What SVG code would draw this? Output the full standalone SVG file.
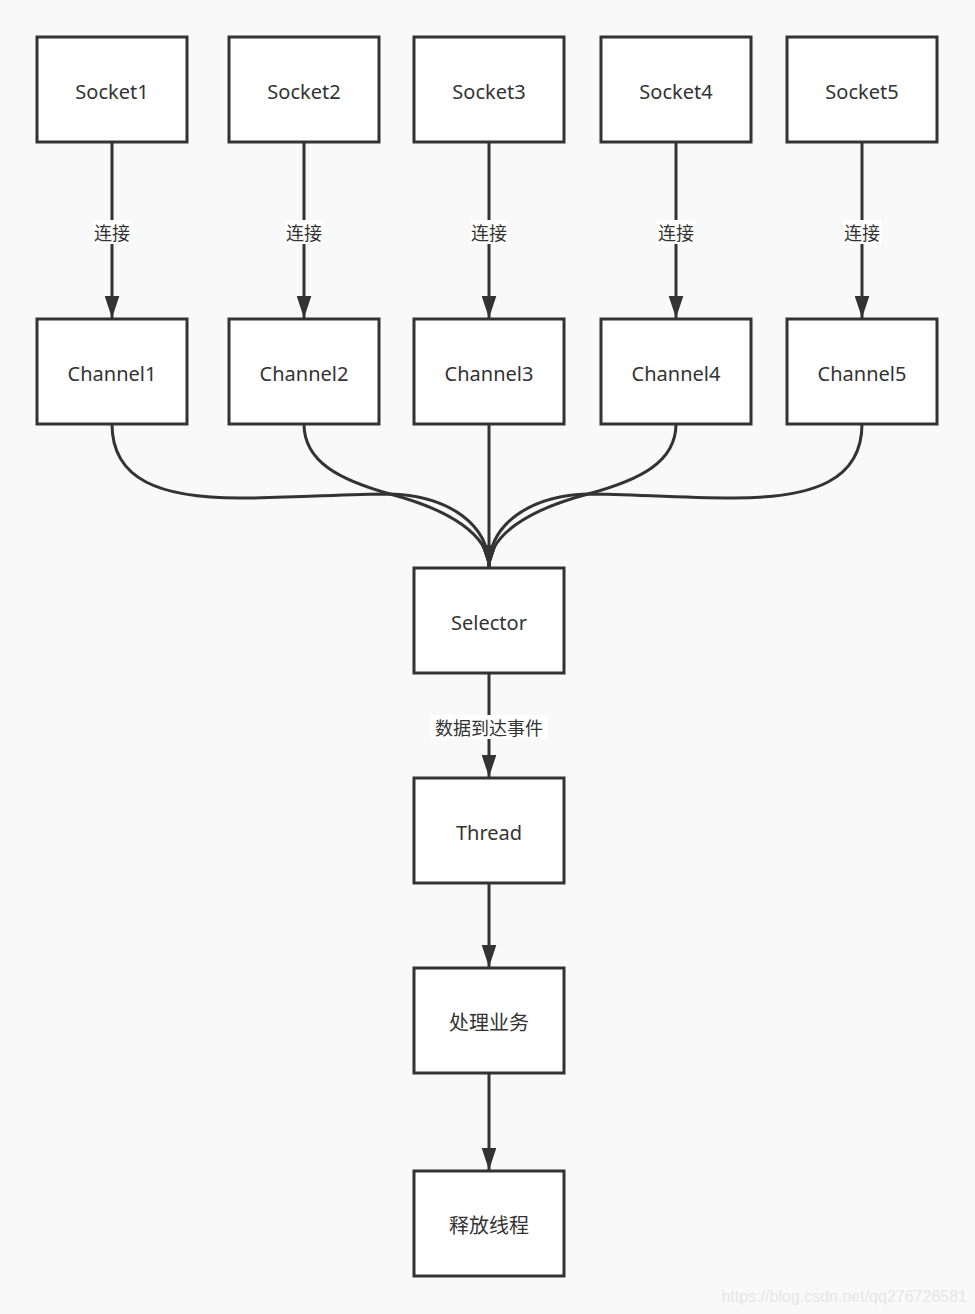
<svg xmlns="http://www.w3.org/2000/svg" width="975" height="1314" viewBox="0 0 975 1314">
<style>
.box{fill:#ffffff;stroke:#333333;stroke-width:3}
.t{font-family:"Noto Sans","Noto Sans CJK SC",sans-serif;font-size:20px;fill:#333333;text-anchor:middle;dominant-baseline:central}
.lbl{font-family:"Noto Sans CJK SC",sans-serif;font-size:18px;fill:#333333;text-anchor:middle;dominant-baseline:central}
.lb{fill:#ffffff;stroke:none}
.e{fill:none;stroke:#333333;stroke-width:3}
</style>
<defs>
<marker id="ah" viewBox="0 0 15 10" refX="15" refY="5" markerWidth="7.5" markerHeight="5" markerUnits="strokeWidth" orient="auto">
<path d="M0,0 L15,5 L0,10 z" fill="#333333"/>
</marker>
</defs>
<rect width="975" height="1314" fill="#f9f9f9"/>
<g id="connectors">
<path class="e" d="M112,142 V318" marker-end="url(#ah)"/>
<path class="e" d="M304,142 V318" marker-end="url(#ah)"/>
<path class="e" d="M489,142 V318" marker-end="url(#ah)"/>
<path class="e" d="M676,142 V318" marker-end="url(#ah)"/>
<path class="e" d="M862,142 V318" marker-end="url(#ah)"/>
<path class="e" d="M112,424 C112,480 160,498 240,498 C300,498 340,494 390,494 C450,496 489,525 489,567" marker-end="url(#ah)"/>
<path class="e" d="M304,424 C304,462 340,480 390,494 C450,510 489,535 489,567" marker-end="url(#ah)"/>
<path class="e" d="M489,424 V567" marker-end="url(#ah)"/>
<path class="e" d="M676,424 C676,462 640,480 588,494 C528,510 489,535 489,567" marker-end="url(#ah)"/>
<path class="e" d="M862,424 C862,480 814,498 734,498 C674,498 634,494 588,494 C528,496 489,525 489,567" marker-end="url(#ah)"/>
<path class="e" d="M489,673 V777" marker-end="url(#ah)"/>
<path class="e" d="M489,883 V967" marker-end="url(#ah)"/>
<path class="e" d="M489,1073 V1170" marker-end="url(#ah)"/>
<rect class="lb" x="93" y="220" width="38" height="24"/>
<text class="lbl" x="112" y="232">连接</text>
<rect class="lb" x="285" y="220" width="38" height="24"/>
<text class="lbl" x="304" y="232">连接</text>
<rect class="lb" x="470" y="220" width="38" height="24"/>
<text class="lbl" x="489" y="232">连接</text>
<rect class="lb" x="657" y="220" width="38" height="24"/>
<text class="lbl" x="676" y="232">连接</text>
<rect class="lb" x="843" y="220" width="38" height="24"/>
<text class="lbl" x="862" y="232">连接</text>
<rect class="lb" x="430" y="715" width="118" height="24"/>
<text class="lbl" x="489" y="727">数据到达事件</text>
</g>
<g id="socket1"><rect class="box" x="37" y="37" width="150" height="105"/><text class="t" x="112" y="91">Socket1</text></g>
<g id="socket2"><rect class="box" x="229" y="37" width="150" height="105"/><text class="t" x="304" y="91">Socket2</text></g>
<g id="socket3"><rect class="box" x="414" y="37" width="150" height="105"/><text class="t" x="489" y="91">Socket3</text></g>
<g id="socket4"><rect class="box" x="601" y="37" width="150" height="105"/><text class="t" x="676" y="91">Socket4</text></g>
<g id="socket5"><rect class="box" x="787" y="37" width="150" height="105"/><text class="t" x="862" y="91">Socket5</text></g>
<g id="channel1"><rect class="box" x="37" y="319" width="150" height="105"/><text class="t" x="112" y="373">Channel1</text></g>
<g id="channel2"><rect class="box" x="229" y="319" width="150" height="105"/><text class="t" x="304" y="373">Channel2</text></g>
<g id="channel3"><rect class="box" x="414" y="319" width="150" height="105"/><text class="t" x="489" y="373">Channel3</text></g>
<g id="channel4"><rect class="box" x="601" y="319" width="150" height="105"/><text class="t" x="676" y="373">Channel4</text></g>
<g id="channel5"><rect class="box" x="787" y="319" width="150" height="105"/><text class="t" x="862" y="373">Channel5</text></g>
<g id="selector"><rect class="box" x="414" y="568" width="150" height="105"/><text class="t" x="489" y="622">Selector</text></g>
<g id="thread"><rect class="box" x="414" y="778" width="150" height="105"/><text class="t" x="489" y="832">Thread</text></g>
<g id="process"><rect class="box" x="414" y="968" width="150" height="105"/><text class="t" x="489" y="1022">处理业务</text></g>
<g id="release"><rect class="box" x="414" y="1171" width="150" height="105"/><text class="t" x="489" y="1225">释放线程</text></g>
<text x="967" y="1296" font-family="Liberation Sans, sans-serif" font-size="16" fill="#e6e6e6" text-anchor="end" dominant-baseline="central">https://blog.csdn.net/qq276726581</text>
</svg>
